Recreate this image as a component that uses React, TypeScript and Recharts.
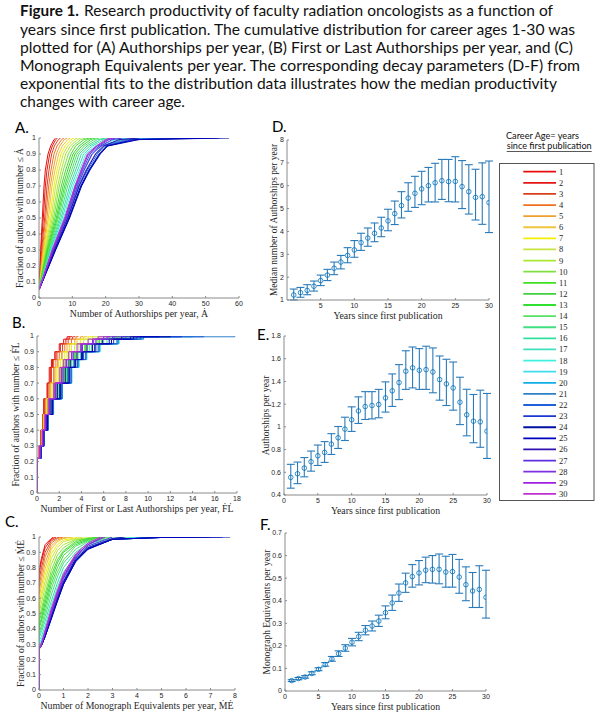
import React from "react";
import {
  LineChart,
  Line,
  ScatterChart,
  Scatter,
  ErrorBar,
  XAxis,
  YAxis,
} from "recharts";

// career age = years since first publication
const careerAges = [
  1, 2, 3, 4, 5, 6, 7, 8, 9, 10, 11, 12, 13, 14, 15, 16, 17, 18, 19, 20, 21,
  22, 23, 24, 25, 26, 27, 28, 29, 30,
];

const ageColors = [
  "#e80c0c", "#e41414", "#d8401c", "#f07020", "#f0a030", "#eec43c",
  "#f0f000", "#c8e440", "#a8e830", "#80e040", "#40e020", "#40d040",
  "#30e030", "#58e060", "#40e080", "#30e0a0", "#40e0c0", "#40f0e0",
  "#40dcf0", "#10b0e8", "#3080c8", "#2060d8", "#1838d0", "#0010a0",
  "#0000c0", "#3010b0", "#6030e0", "#8030e0", "#a020e0", "#c030d0",
];

// (A) authorships per year: x reached at each cumulative fraction
const authorshipLevels = [0.05, 0.3, 0.5, 0.7, 0.8, 0.9, 0.95, 0.99, 1];
const authorshipQuantiles = [
  [0, 0.5, 1.0, 1.5, 1.9, 2.7, 3.5, 4.5, 5],
  [0, 0.6, 1.3, 1.9, 2.4, 3.2, 4.0, 5.0, 5.6],
  [0, 0.8, 1.7, 2.4, 3.0, 3.8, 4.6, 5.8, 6.5],
  [0, 1.0, 2.0, 2.9, 3.6, 4.5, 5.4, 6.8, 7.5],
  [0, 1.2, 2.4, 3.4, 4.2, 5.2, 6.2, 7.6, 8.5],
  [0, 1.4, 2.8, 3.9, 4.8, 5.9, 7.0, 8.6, 9.5],
  [0, 1.6, 3.2, 4.5, 5.4, 6.6, 7.8, 9.6, 10.5],
  [0, 1.8, 3.6, 5.0, 6.0, 7.3, 8.6, 10.5, 11.5],
  [0, 2.0, 4.0, 5.6, 6.7, 8.0, 9.4, 11.5, 12.5],
  [0, 2.2, 4.4, 6.1, 7.3, 8.8, 10.2, 12.5, 14],
  [0, 2.4, 4.8, 6.7, 8.0, 9.6, 11.0, 13.5, 15],
  [0, 2.6, 5.2, 7.2, 8.6, 10.2, 12.0, 14.5, 16],
  [0, 2.8, 5.5, 7.7, 9.2, 10.8, 12.8, 15.5, 17],
  [0, 3.0, 5.8, 8.1, 9.8, 11.4, 13.6, 16.5, 18],
  [0, 3.2, 6.2, 8.6, 10.4, 12.0, 14.4, 17.5, 20],
  [0, 3.4, 6.6, 9.2, 11.0, 12.7, 15.2, 18.5, 22],
  [0, 3.6, 7.0, 9.7, 11.6, 13.4, 16.0, 19.5, 25],
  [0, 3.8, 7.4, 10.2, 12.2, 14.0, 16.8, 21, 28],
  [0, 4.0, 7.8, 10.7, 12.8, 14.8, 17.6, 23, 32],
  [0, 4.2, 8.1, 11.2, 13.4, 15.8, 18.4, 25, 36],
  [0, 4.4, 8.4, 11.7, 14.1, 16.9, 19.0, 26, 40],
  [0, 4.6, 8.7, 12.1, 14.6, 17.5, 19.6, 27, 45],
  [0, 4.8, 9.0, 12.5, 15.0, 18.0, 20.2, 28, 50],
  [0, 5.0, 9.2, 12.8, 15.3, 18.4, 20.6, 30, 57],
  [0, 4.9, 9.0, 12.6, 15.1, 18.2, 20.4, 29, 54],
  [0, 4.6, 8.6, 12.0, 14.3, 17.0, 19.4, 24, 30],
  [0, 4.3, 8.2, 11.5, 13.6, 16.0, 18.6, 22, 25],
  [0, 4.1, 7.9, 11.1, 13.1, 15.3, 18.0, 21, 23],
  [0, 4.0, 7.8, 10.9, 12.8, 14.8, 17.5, 20.5, 22],
  [0, 3.9, 7.7, 10.8, 12.6, 14.5, 17.2, 20, 21.5],
];

// (B) first or last authorships per year (stepped empirical cdf)
const firstLastLevels = [
  0, 0.22, 0.3, 0.4, 0.5, 0.6, 0.7, 0.8, 0.85, 0.9, 0.95, 0.98, 0.995, 1,
];
const firstLastQuantiles = [
  [0, 0, 0.2, 0.35, 0.5, 0.6, 0.9, 1.1, 1.3, 1.6, 2.0, 2.4, 2.7, 2.9],
  [0, 0, 0.2, 0.35, 0.5, 0.65, 0.95, 1.2, 1.4, 1.7, 2.1, 2.6, 2.9, 3.1],
  [0, 0, 0.2, 0.35, 0.5, 0.7, 1.0, 1.3, 1.5, 1.8, 2.3, 2.8, 3.2, 3.4],
  [0, 0, 0.25, 0.4, 0.55, 0.75, 1.1, 1.5, 1.7, 2.0, 2.5, 3.1, 3.5, 3.7],
  [0, 0, 0.25, 0.4, 0.6, 0.8, 1.2, 1.6, 1.85, 2.2, 2.7, 3.4, 3.9, 4.1],
  [0, 0, 0.25, 0.4, 0.6, 0.85, 1.25, 1.7, 1.95, 2.3, 2.9, 3.6, 4.2, 4.5],
  [0, 0, 0.25, 0.45, 0.65, 0.9, 1.35, 1.8, 2.1, 2.5, 3.1, 3.9, 4.6, 5.0],
  [0, 0, 0.25, 0.45, 0.7, 0.95, 1.45, 1.95, 2.3, 2.7, 3.4, 4.2, 5.0, 5.5],
  [0, 0, 0.3, 0.5, 0.7, 1.0, 1.55, 2.1, 2.45, 2.9, 3.7, 4.6, 5.5, 6.0],
  [0, 0, 0.3, 0.5, 0.75, 1.05, 1.65, 2.25, 2.65, 3.15, 4.0, 5.0, 6.0, 6.5],
  [0, 0, 0.3, 0.5, 0.8, 1.1, 1.75, 2.4, 2.85, 3.4, 4.3, 5.4, 6.5, 7.0],
  [0, 0, 0.3, 0.55, 0.8, 1.15, 1.8, 2.5, 2.95, 3.5, 4.4, 5.6, 6.8, 7.5],
  [0, 0, 0.3, 0.55, 0.8, 1.15, 1.8, 2.5, 2.95, 3.5, 4.4, 5.6, 7.0, 7.8],
  [0, 0, 0.3, 0.55, 0.85, 1.2, 1.85, 2.55, 3.0, 3.6, 4.5, 5.8, 7.2, 8.2],
  [0, 0, 0.3, 0.55, 0.85, 1.25, 1.9, 2.65, 3.1, 3.7, 4.7, 6.0, 7.6, 9.0],
  [0, 0, 0.35, 0.6, 0.9, 1.3, 2.0, 2.75, 3.25, 3.9, 4.9, 6.3, 8.0, 10],
  [0, 0, 0.35, 0.6, 0.95, 1.35, 2.1, 2.9, 3.45, 4.1, 5.2, 6.7, 8.6, 11],
  [0, 0, 0.35, 0.65, 1.0, 1.45, 2.25, 3.1, 3.7, 4.4, 5.6, 7.2, 9.2, 12],
  [0, 0, 0.35, 0.65, 1.0, 1.5, 2.3, 3.15, 3.8, 4.5, 5.7, 7.4, 9.5, 13],
  [0, 0, 0.35, 0.65, 1.0, 1.45, 2.25, 3.1, 3.7, 4.4, 5.6, 7.3, 9.4, 14],
  [0, 0, 0.35, 0.65, 1.0, 1.45, 2.25, 3.1, 3.7, 4.4, 5.6, 7.3, 9.6, 17.8],
  [0, 0, 0.35, 0.65, 1.0, 1.45, 2.25, 3.05, 3.65, 4.4, 5.5, 7.2, 9.3, 15],
  [0, 0, 0.35, 0.6, 0.95, 1.4, 2.15, 2.95, 3.5, 4.2, 5.3, 6.9, 9.0, 13],
  [0, 0, 0.35, 0.6, 0.95, 1.4, 2.1, 2.9, 3.45, 4.1, 5.2, 6.7, 8.7, 12],
  [0, 0, 0.35, 0.6, 0.9, 1.35, 2.05, 2.8, 3.35, 4.0, 5.0, 6.5, 8.4, 11],
  [0, 0, 0.3, 0.55, 0.85, 1.25, 1.85, 2.55, 3.0, 3.6, 4.5, 5.9, 7.6, 9],
  [0, 0, 0.3, 0.55, 0.8, 1.15, 1.7, 2.35, 2.8, 3.3, 4.1, 5.3, 6.8, 8],
  [0, 0, 0.25, 0.5, 0.75, 1.1, 1.65, 2.25, 2.65, 3.15, 4.0, 5.1, 6.3, 7],
  [0, 0, 0.25, 0.5, 0.75, 1.1, 1.6, 2.2, 2.6, 3.1, 3.9, 5.0, 6.0, 6.5],
  [0, 0, 0.25, 0.45, 0.7, 1.0, 1.5, 2.05, 2.4, 2.85, 3.6, 4.6, 5.5, 6],
];

// (C) monograph equivalents per year: jump at zero, fraction on a grid, last value
const monographGrid = [0.1, 0.25, 0.5, 0.75, 1, 1.5, 2, 3, 5];
const monographStart = [
  0.78, 0.76, 0.72, 0.68, 0.64, 0.6, 0.57, 0.54, 0.5, 0.47, 0.45, 0.42, 0.4,
  0.38, 0.36, 0.34, 0.32, 0.31, 0.3, 0.29, 0.28, 0.28, 0.27, 0.27, 0.27, 0.27,
  0.27, 0.27, 0.27, 0.26,
];
const monographFractions = [
  [0.86, 0.95, 0.99, 1, 1, 1, 1, 1, 1],
  [0.84, 0.93, 0.985, 1, 1, 1, 1, 1, 1],
  [0.8, 0.9, 0.975, 0.995, 1, 1, 1, 1, 1],
  [0.76, 0.87, 0.96, 0.99, 1, 1, 1, 1, 1],
  [0.72, 0.83, 0.94, 0.98, 0.995, 1, 1, 1, 1],
  [0.68, 0.79, 0.92, 0.97, 0.99, 1, 1, 1, 1],
  [0.64, 0.75, 0.89, 0.95, 0.98, 0.995, 1, 1, 1],
  [0.61, 0.71, 0.86, 0.93, 0.97, 0.99, 1, 1, 1],
  [0.57, 0.67, 0.82, 0.91, 0.95, 0.985, 0.995, 1, 1],
  [0.53, 0.63, 0.78, 0.88, 0.93, 0.98, 0.99, 1, 1],
  [0.5, 0.6, 0.75, 0.85, 0.91, 0.97, 0.99, 1, 1],
  [0.47, 0.57, 0.72, 0.83, 0.9, 0.96, 0.985, 1, 1],
  [0.45, 0.54, 0.69, 0.8, 0.88, 0.95, 0.98, 1, 1],
  [0.42, 0.51, 0.66, 0.77, 0.85, 0.94, 0.975, 0.995, 1],
  [0.4, 0.48, 0.62, 0.74, 0.83, 0.92, 0.97, 0.99, 1],
  [0.38, 0.45, 0.58, 0.7, 0.8, 0.9, 0.96, 0.99, 1],
  [0.35, 0.42, 0.55, 0.67, 0.77, 0.88, 0.95, 0.985, 1],
  [0.33, 0.4, 0.52, 0.64, 0.74, 0.87, 0.94, 0.985, 0.997],
  [0.32, 0.38, 0.5, 0.62, 0.72, 0.86, 0.93, 0.985, 0.997],
  [0.31, 0.37, 0.49, 0.61, 0.71, 0.85, 0.93, 0.985, 0.997],
  [0.3, 0.36, 0.48, 0.6, 0.7, 0.85, 0.93, 0.985, 0.997],
  [0.29, 0.35, 0.47, 0.59, 0.7, 0.85, 0.925, 0.985, 0.997],
  [0.29, 0.35, 0.46, 0.58, 0.69, 0.84, 0.92, 0.985, 0.997],
  [0.29, 0.35, 0.47, 0.59, 0.7, 0.85, 0.925, 0.985, 0.997],
  [0.29, 0.35, 0.47, 0.58, 0.69, 0.84, 0.92, 0.985, 0.997],
  [0.29, 0.36, 0.48, 0.6, 0.71, 0.86, 0.93, 0.99, 1],
  [0.3, 0.37, 0.5, 0.62, 0.73, 0.87, 0.94, 0.995, 1],
  [0.3, 0.38, 0.52, 0.64, 0.75, 0.88, 0.95, 0.997, 1],
  [0.3, 0.38, 0.51, 0.63, 0.74, 0.88, 0.95, 0.997, 1],
  [0.3, 0.39, 0.53, 0.65, 0.76, 0.89, 0.96, 1, 1],
];
const monographMax = [
  0.6, 0.7, 0.85, 1.0, 1.2, 1.4, 1.6, 1.8, 2.1, 2.3, 2.5, 2.6, 2.8, 3.0, 3.3,
  3.6, 4, 4.5, 5, 5.5, 6, 6.5, 7, 7.8, 7.5, 3.5, 3.0, 2.7, 2.6, 2.5,
];

// (D) median authorships per year, with bounds
const authMedian = [
  1.22, 1.32, 1.42, 1.6, 1.85, 2.09, 2.39, 2.66, 2.95, 3.19, 3.51, 3.71, 3.92,
  4.15, 4.46, 4.78, 5.13, 5.46, 5.67, 5.86, 6.0, 6.13, 6.22, 6.18, 6.19, 5.96,
  5.74, 5.49, 5.52, 5.26,
];
const authLow = [
  1.0, 1.12, 1.23, 1.39, 1.63, 1.85, 2.11, 2.36, 2.63, 2.87, 3.17, 3.35, 3.55,
  3.77, 4.03, 4.3, 4.59, 4.88, 5.05, 5.17, 5.29, 5.29, 5.4, 5.3, 5.29, 5.0,
  4.76, 4.5, 4.31, 3.95,
];
const authHigh = [
  1.48, 1.55, 1.67, 1.83, 2.09, 2.34, 2.66, 2.95, 3.29, 3.6, 3.92, 4.15, 4.37,
  4.62, 4.97, 5.33, 5.74, 6.13, 6.41, 6.63, 6.8, 6.98, 7.15, 7.15, 7.27, 7.1,
  6.92, 6.72, 7.0, 7.08,
];

// (E) first or last authorships per year
const flRate = [
  0.555, 0.587, 0.637, 0.693, 0.745, 0.775, 0.848, 0.904, 0.98, 1.062, 1.14,
  1.179, 1.188, 1.197, 1.255, 1.317, 1.39, 1.49, 1.52, 1.498, 1.504, 1.484,
  1.416, 1.378, 1.343, 1.217, 1.106, 1.05, 1.044, 0.962,
];
const flLow = [
  0.46, 0.5, 0.56, 0.61, 0.66, 0.687, 0.757, 0.81, 0.88, 0.96, 1.03, 1.065,
  1.07, 1.08, 1.13, 1.18, 1.24, 1.33, 1.343, 1.33, 1.33, 1.3, 1.235, 1.188,
  1.147, 1.02, 0.921, 0.86, 0.82, 0.722,
];
const flHigh = [
  0.67, 0.69, 0.73, 0.787, 0.84, 0.87, 0.94, 1.003, 1.085, 1.176, 1.264, 1.31,
  1.31, 1.33, 1.396, 1.466, 1.548, 1.67, 1.703, 1.689, 1.71, 1.695, 1.624,
  1.595, 1.571, 1.437, 1.331, 1.285, 1.323, 1.294,
];

// (F) monograph equivalents per year
const meRate = [
  0.046, 0.055, 0.062, 0.078, 0.096, 0.117, 0.142, 0.165, 0.19, 0.216, 0.241,
  0.269, 0.288, 0.31, 0.347, 0.39, 0.434, 0.479, 0.507, 0.523, 0.535, 0.539,
  0.539, 0.527, 0.529, 0.505, 0.471, 0.443, 0.45, 0.415,
];
const meLow = [
  0.042, 0.05, 0.057, 0.072, 0.09, 0.11, 0.132, 0.153, 0.176, 0.2, 0.223, 0.249,
  0.266, 0.286, 0.32, 0.357, 0.397, 0.437, 0.46, 0.47, 0.48, 0.478, 0.475, 0.46,
  0.46, 0.433, 0.4, 0.37, 0.37, 0.323,
];
const meHigh = [
  0.05, 0.06, 0.068, 0.085, 0.103, 0.126, 0.153, 0.178, 0.205, 0.233, 0.26,
  0.29, 0.31, 0.336, 0.377, 0.425, 0.474, 0.522, 0.56, 0.578, 0.593, 0.6, 0.607,
  0.597, 0.605, 0.583, 0.55, 0.525, 0.555, 0.535,
];

const fractionTicks = [0, 0.1, 0.2, 0.3, 0.4, 0.5, 0.6, 0.7, 0.8, 0.9, 1];
const authorshipTicks = [0, 10, 20, 30, 40, 50, 60];
const firstLastTicks = [0, 2, 4, 6, 8, 10, 12, 14, 16, 18];
const monographTicks = [0, 1, 2, 3, 4, 5, 6, 7, 8];
const yearTicks = [0, 5, 10, 15, 20, 25, 30];
const yearTicksD = [5, 10, 15, 20, 25, 30];
const medianTicks = [1, 2, 3, 4, 5, 6, 7, 8];
const flRateTicks = [0.4, 0.6, 0.8, 1, 1.2, 1.4, 1.6, 1.8];
const meRateTicks = [0, 0.1, 0.2, 0.3, 0.4, 0.5, 0.6, 0.7];

const captionLines = [
  "years since first publication.  The cumulative distribution for career ages 1-30 was",
  "plotted for (A) Authorships per year, (B) First or Last Authorships per year, and (C)",
  "Monograph Equivalents per year.  The corresponding decay parameters (D-F) from",
  "exponential fits to the distribution data illustrates how the median productivity",
  "changes with career age.",
];
const captionWidths = [555, 553, 560, 537, 165];

const YW = 36;
const XH = 26;
const PAD_T = 6;
const PAD_R = 8;
const BOX = "#8a8a8a";
const INK = "#262626";
const SERIF = "'Liberation Serif', 'Times New Roman', serif";
const tickStyle = { fontSize: 7, fill: INK, fontFamily: "'Liberation Sans', Arial, sans-serif" };
const markBlue = "#0072BD";

type Frame = {
  left: number;
  top: number;
  w: number;
  h: number;
  xDomain: [number, number];
  xTicks: number[];
  yDomain: [number, number];
  yTicks: number[];
  xLabel: string;
  yLabel: string;
  yGap: number;
};

function frameAxes(f: Frame, xKey: string, yKey: string) {
  return [
    <XAxis
      key="xb"
      xAxisId="b"
      type="number"
      dataKey={xKey}
      domain={f.xDomain}
      ticks={f.xTicks}
      interval={0}
      allowDataOverflow
      height={XH}
      stroke={BOX}
      tickSize={-2}
      tickMargin={5}
      tick={tickStyle}
      label={{
        value: f.xLabel,
        position: "insideBottom",
        offset: 7,
        style: { fontFamily: SERIF, fontSize: 9.8, fill: INK },
      }}
    />,
    <XAxis
      key="xt"
      xAxisId="t"
      orientation="top"
      type="number"
      dataKey={xKey}
      domain={f.xDomain}
      ticks={f.xTicks}
      interval={0}
      allowDataOverflow
      height={0}
      stroke={BOX}
      tickSize={-2}
      tickFormatter={() => ""}
    />,
    <YAxis
      key="yl"
      yAxisId="l"
      type="number"
      dataKey={yKey}
      domain={f.yDomain}
      ticks={f.yTicks}
      interval={0}
      allowDataOverflow
      width={YW}
      stroke={BOX}
      tickSize={-2}
      tickMargin={5}
      tick={tickStyle}
      label={{
        value: f.yLabel,
        angle: -90,
        position: "insideLeft",
        offset: YW - f.yGap,
        style: { fontFamily: SERIF, fontSize: 9.5, fill: INK, textAnchor: "middle" },
      }}
    />,
    <YAxis
      key="yr"
      yAxisId="r"
      orientation="right"
      type="number"
      dataKey={yKey}
      domain={f.yDomain}
      ticks={f.yTicks}
      interval={0}
      allowDataOverflow
      width={0}
      stroke={BOX}
      tickSize={-2}
      tickFormatter={() => ""}
    />,
  ];
}

const place = (f: Frame): React.CSSProperties => ({
  position: "absolute",
  left: f.left - YW,
  top: f.top - PAD_T,
});

const chartSize = (f: Frame) => ({
  width: YW + f.w + PAD_R,
  height: PAD_T + f.h + XH,
  margin: { top: PAD_T, right: PAD_R, left: 0, bottom: 0 },
});

function CdfPanel({
  frame,
  curves,
  step,
}: {
  frame: Frame;
  curves: { x: number; y: number }[][];
  step?: boolean;
}) {
  return (
    <div style={place(frame)}>
      <LineChart {...chartSize(frame)}>
        {frameAxes(frame, "x", "y")}
        {curves.map((pts, i) => (
          <Line
            key={careerAges[i]}
            xAxisId="b"
            yAxisId="l"
            data={pts}
            dataKey="y"
            type={step ? "stepAfter" : "linear"}
            stroke={ageColors[i]}
            strokeWidth={1}
            dot={false}
            isAnimationActive={false}
          />
        ))}
      </LineChart>
    </div>
  );
}

const OpenCircle = (props: any) => (
  <circle cx={props.cx} cy={props.cy} r={2.3} fill="none" stroke={markBlue} strokeWidth={0.8} />
);

function RatePanel({
  frame,
  mid,
  low,
  high,
}: {
  frame: Frame;
  mid: number[];
  low: number[];
  high: number[];
}) {
  const pts = careerAges.map((x, i) => ({
    x,
    v: mid[i],
    err: [mid[i] - low[i], high[i] - mid[i]],
  }));
  return (
    <div style={place(frame)}>
      <ScatterChart {...chartSize(frame)}>
        {frameAxes(frame, "x", "v")}
        <Scatter
          xAxisId="b"
          yAxisId="l"
          data={pts}
          dataKey="v"
          shape={OpenCircle}
          isAnimationActive={false}
        >
          <ErrorBar
            dataKey="err"
            direction="y"
            width={4}
            stroke="#2b7bba"
            strokeWidth={1.1}
            isAnimationActive={false}
          />
        </Scatter>
      </ScatterChart>
    </div>
  );
}

const frameA: Frame = {
  left: 39, top: 138, w: 200, h: 160,
  xDomain: [0, 60], xTicks: authorshipTicks, yDomain: [0, 1], yTicks: fractionTicks,
  xLabel: "Number of Authorships per year, Ȧ",
  yLabel: "Fraction of authors with number ≤ Ȧ",
  yGap: 19,
};
const frameB: Frame = {
  left: 37, top: 336, w: 200, h: 157,
  xDomain: [0, 18], xTicks: firstLastTicks, yDomain: [0, 1], yTicks: fractionTicks,
  xLabel: "Number of First or Last Authorships per year, ḞL̇",
  yLabel: "Fraction of authors with number ≤ ḞL̇",
  yGap: 21,
};
const frameC: Frame = {
  left: 39, top: 537, w: 196, h: 153,
  xDomain: [0, 8], xTicks: monographTicks, yDomain: [0, 1], yTicks: fractionTicks,
  xLabel: "Number of Monograph Equivalents per year, ṀĖ",
  yLabel: "Fraction of authors with number ≤ ṀĖ",
  yGap: 18,
};
const frameD: Frame = {
  left: 287, top: 140, w: 202, h: 160,
  xDomain: [0, 30], xTicks: yearTicksD, yDomain: [1, 8], yTicks: medianTicks,
  xLabel: "Years since first publication",
  yLabel: "Median number of Authorships per year",
  yGap: 13,
};
const frameE: Frame = {
  left: 284, top: 336, w: 203, h: 159,
  xDomain: [0, 30], xTicks: yearTicks, yDomain: [0.4, 1.8], yTicks: flRateTicks,
  xLabel: "Years since first publication",
  yLabel: "Authorships per year",
  yGap: 18,
};
const frameF: Frame = {
  left: 285, top: 533, w: 201, h: 158,
  xDomain: [0, 30], xTicks: yearTicks, yDomain: [0, 0.7], yTicks: meRateTicks,
  xLabel: "Years since first publication",
  yLabel: "Monograph Equivalents per year",
  yGap: 18,
};

export default function App() {
  const curvesA = authorshipQuantiles.map((row) =>
    row.map((x, i) => ({ x, y: authorshipLevels[i] }))
  );
  const curvesB = firstLastQuantiles.map((row) =>
    row.map((x, i) => ({ x, y: firstLastLevels[i] }))
  );
  const curvesC = monographFractions.map((row, k) => [
    { x: 0, y: 0 },
    { x: 0, y: monographStart[k] },
    ...monographGrid
      .map((x, i) => ({ x, y: row[i] }))
      .filter((p) => p.x < monographMax[k]),
    { x: monographMax[k], y: 1 },
  ]);

  const letter = { fontFamily: "Lato, 'Open Sans', sans-serif", fontSize: 15, fill: "#000" };
  const legendTop = 171.7;
  const legendStep = 11.11;

  return (
    <div style={{ position: "absolute", left: 0, top: 0, width: 600, height: 712, background: "#fff" }}>
      <svg width={600} height={712} style={{ position: "absolute", left: 0, top: 0 }}>
        <g fontFamily="Lato, 'Open Sans', sans-serif" fontSize={15} fill="#111" style={{ whiteSpace: "pre" }}>
          <text x={20} y={16} fontWeight="bold" textLength={59} lengthAdjust="spacingAndGlyphs">
            Figure 1.
          </text>
          <text x={84} y={16} textLength={469} lengthAdjust="spacingAndGlyphs">
            Research productivity of faculty radiation oncologists as a function of
          </text>
          {captionLines.map((line, i) => (
            <text
              key={i}
              x={20}
              y={34.5 + i * 18.05}
              textLength={captionWidths[i]}
              lengthAdjust="spacingAndGlyphs"
            >
              {line}
            </text>
          ))}
        </g>

        <text x={15} y={133} {...letter}>A.</text>
        <text x={12} y={328} {...letter}>B.</text>
        <text x={5} y={527} {...letter}>C.</text>
        <text x={272} y={132} {...letter}>D.</text>
        <text x={257} y={340} {...letter}>E.</text>
        <text x={260} y={530} {...letter}>F.</text>

        <g fontFamily="Lato, 'Open Sans', sans-serif" fontSize={9} fill="#111">
          <text x={506} y={139} textLength={73} lengthAdjust="spacingAndGlyphs">
            Career Age= years
          </text>
          <text x={506.7} y={149} textLength={85} lengthAdjust="spacingAndGlyphs">
            since first publication
          </text>
          <line x1={506.7} x2={591.7} y1={151.5} y2={151.5} stroke="#111" strokeWidth={0.7} />
        </g>
        <rect x={499.5} y={163.5} width={94.5} height={337} fill="#fff" stroke="#555" strokeWidth={1} />
        {careerAges.map((age, i) => (
          <g key={age}>
            <line
              x1={523.3}
              x2={556}
              y1={legendTop + i * legendStep}
              y2={legendTop + i * legendStep}
              stroke={ageColors[i]}
              strokeWidth={1.8}
            />
            <text
              x={559}
              y={legendTop + i * legendStep + 3}
              fontFamily={SERIF}
              fontSize={8.5}
              fill={INK}
            >
              {age}
            </text>
          </g>
        ))}
      </svg>

      <CdfPanel frame={frameA} curves={curvesA} />
      <CdfPanel frame={frameB} curves={curvesB} step />
      <CdfPanel frame={frameC} curves={curvesC} />
      <RatePanel frame={frameD} mid={authMedian} low={authLow} high={authHigh} />
      <RatePanel frame={frameE} mid={flRate} low={flLow} high={flHigh} />
      <RatePanel frame={frameF} mid={meRate} low={meLow} high={meHigh} />
    </div>
  );
}
